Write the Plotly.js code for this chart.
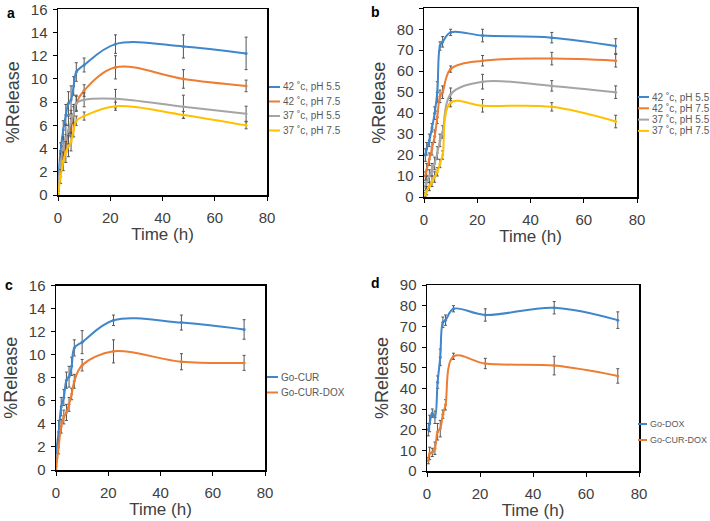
<!DOCTYPE html>
<html><head><meta charset="utf-8">
<script src="https://cdn.plot.ly/plotly-3.0.1.min.js"></script>
<style>html,body{margin:0;padding:0;background:#fff}#chart{width:710px;height:521px}</style>
</head><body><div id="chart"></div>
<script>
// ---- data ----
const tA = [0, 1, 2, 3, 4, 5, 6, 7, 10, 22, 48, 72];
const aNames = ["42 ˚c, pH 5.5", "42 ˚c, pH 7.5", "37 ˚c, pH 5.5", "37 ˚c, pH 7.5"];
const a42_55 = [1.0, 3.8, 5.6, 6.9, 7.9, 8.2, 9.4, 10.6, 11.2, 13.0, 12.8, 12.2];
const a42_55e = [0.5, 0.7, 0.8, 0.9, 1.0, 1.2, 0.8, 0.8, 0.6, 0.8, 1.0, 1.4];
const a42_75 = [0, 2.2, 3.5, 4.5, 5.2, 5.8, 6.9, 7.9, 9.0, 11.0, 10.0, 9.4];
const a42_75e = [0.3, 0.6, 0.7, 0.7, 0.8, 0.8, 0.7, 0.6, 0.5, 1.0, 0.8, 0.5];
const a37_55 = [0.5, 2.8, 4.0, 4.9, 5.6, 6.3, 7.0, 7.9, 8.2, 8.3, 7.6, 7.0];
const a37_55e = [0.4, 0.8, 1.0, 1.2, 1.2, 1.0, 0.8, 0.7, 0.6, 0.8, 1.0, 0.65];
const a37_75 = [0, 1.6, 2.9, 3.7, 4.2, 4.6, 5.6, 6.4, 6.8, 7.65, 6.9, 6.0];
const a37_75e = [0.3, 0.6, 0.8, 0.9, 0.9, 0.8, 0.6, 0.4, 0.35, 0.35, 0.3, 0.3];

const tB = [0.5, 1, 2, 3, 4, 5, 6, 7, 10, 22, 48, 72];
const b42_55 = [20, 23, 27, 33, 40, 50, 72, 74, 78.5, 77, 76, 72];
const b42_55e = [3, 3, 3, 2, 3, 5, 2, 2.5, 1.5, 3, 2.5, 3.5];
const b42_75 = [10, 13, 18, 23, 29, 38, 48, 50, 61, 65, 66, 65];
const b42_75e = [2, 3, 3, 3, 3, 3, 3, 3, 1.5, 2.5, 3, 3];
const b37_55 = [5, 7, 10, 13, 16, 21, 27, 31, 49, 55, 53, 50];
const b37_55e = [2, 3, 3, 3, 3, 3, 3, 3, 3, 3.5, 2.5, 3];
const b37_75 = [1, 3, 5, 7.5, 9.5, 12, 16, 20, 45, 43.5, 43, 36];
const b37_75e = [1, 2, 2, 2.5, 2.5, 2, 2, 2, 2, 3, 2, 3];

const tC = [0, 1, 2, 3, 4, 5, 6, 7, 10, 22, 48, 72];
const cNames = ["Go-CUR", "Go-CUR-DOX"];
const cCur = [1.5, 3.3, 5.5, 6.3, 7.8, 8.1, 9.0, 10.6, 11.1, 13.0, 12.8, 12.2];
const cCurE = [0.5, 1.0, 0.8, 0.7, 0.7, 0.9, 0.8, 0.7, 1.0, 0.45, 0.65, 0.85];
const cCurDox = [0, 2.0, 3.8, 4.6, 5.0, 5.7, 6.6, 7.7, 9.1, 10.3, 9.4, 9.3];
const cCurDoxE = [0.3, 0.6, 0.6, 0.6, 0.7, 0.6, 0.5, 0.6, 0.5, 1.0, 0.7, 0.65];

const tD = [0.5, 1, 2, 3, 4, 5, 6, 7, 10, 22, 48, 72];
const dNames = ["Go-DOX", "Go-CUR-DOX"];
const dDox = [20, 23, 28, 26, 43, 55, 72, 73, 78.5, 75.5, 79, 73];
const dDoxE = [3, 4, 2, 3, 3, 4, 2.5, 2.5, 1.5, 3, 3, 4];
const dCurDox = [5, 8.5, 9, 11, 19, 20.5, 27.5, 32, 55.5, 52, 51, 46];
const dCurDoxE = [1.5, 3, 2, 3, 4, 4, 2, 2.5, 1.5, 2.5, 4.5, 3.5];

const xTicks = [0, 20, 40, 60, 80];
const colors = ["#3f86cc", "#ed7d31", "#a5a5a5", "#ffc000"];

// ---- styling ----
const W = 710, H = 521;
const FONT = "Liberation Sans, Arial, sans-serif";
const TXT = "#404040";
const px = x => x / W, py = y => 1 - y / H;

function trace(x, y, e, name, color, xa, ya) {
  return {
    x: x, y: y, name: name, type: "scatter", mode: "lines+markers",
    xaxis: xa, yaxis: ya, showlegend: false,
    line: {color: color, width: 2, shape: "spline", smoothing: 1},
    marker: {color: color, size: 3},
    error_y: {type: "data", array: e, visible: true, color: "#555", thickness: 1, width: 1.5},
    hoverinfo: "x+y+name"
  };
}

const data = [
  trace(tA, a42_55, a42_55e, aNames[0], colors[0], "x", "y"),
  trace(tA, a42_75, a42_75e, aNames[1], colors[1], "x", "y"),
  trace(tA, a37_55, a37_55e, aNames[2], colors[2], "x", "y"),
  trace(tA, a37_75, a37_75e, aNames[3], colors[3], "x", "y"),
  trace(tB, b42_55, b42_55e, aNames[0], colors[0], "x2", "y2"),
  trace(tB, b42_75, b42_75e, aNames[1], colors[1], "x2", "y2"),
  trace(tB, b37_55, b37_55e, aNames[2], colors[2], "x2", "y2"),
  trace(tB, b37_75, b37_75e, aNames[3], colors[3], "x2", "y2"),
  trace(tC, cCur, cCurE, cNames[0], colors[0], "x3", "y3"),
  trace(tC, cCurDox, cCurDoxE, cNames[1], colors[1], "x3", "y3"),
  trace(tD, dDox, dDoxE, dNames[0], colors[0], "x4", "y4"),
  trace(tD, dCurDox, dCurDoxE, dNames[1], colors[1], "x4", "y4")
];

function xaxis(l, r, anchor) {
  return {
    domain: [px(l), px(r)], anchor: anchor, range: [0, 80], tickvals: xTicks,
    showline: true, linecolor: "#000", linewidth: 1.5, mirror: true,
    ticks: "outside", ticklen: 4, tickcolor: "#000", tickwidth: 1,
    showgrid: false, zeroline: false, ticklabelstandoff: 4,
    tickfont: {family: FONT, size: 15, color: TXT},
    title: {text: "Time (h)", font: {family: FONT, size: 17, color: TXT}, standoff: 0}
  };
}
function yaxis(t, b, anchor, max, dt) {
  return {
    domain: [py(b), py(t)], anchor: anchor, range: [0, max], dtick: dt,
    showline: true, linecolor: "#000", linewidth: 1.5, mirror: true,
    ticks: "outside", ticklen: 4, tickcolor: "#000", tickwidth: 1,
    showgrid: false, zeroline: false, ticklabelstandoff: 2,
    tickfont: {family: FONT, size: 15, color: TXT},
    title: {text: "%Release", font: {family: FONT, size: 18, color: TXT}, standoff: 6}
  };
}

const shapes = [], annotations = [];
function legend(x0, y0, dy, names, cols, len, fs) {
  names.forEach((n, i) => {
    const y = y0 + i * dy;
    shapes.push({type: "line", xref: "paper", yref: "paper",
      x0: px(x0), x1: px(x0 + len), y0: py(y), y1: py(y),
      line: {color: cols[i], width: 2}});
    annotations.push({xref: "paper", yref: "paper", x: px(x0 + len + 1), y: py(y),
      xanchor: "left", yanchor: "middle", showarrow: false, text: n,
      font: {family: FONT, size: fs, color: "#595959"}});
  });
}
legend(269, 87, 14.5, aNames, colors, 11, 10);
legend(638, 97, 11.3, aNames, colors, 11, 10);
legend(267, 377, 15.5, cNames, colors, 11, 10);
legend(638, 424, 16, dNames, colors, 9, 9);

[["a", 11, 13], ["b", 375, 12], ["c", 9, 285], ["d", 375, 283]].forEach(([t, x, y]) => {
  annotations.push({xref: "paper", yref: "paper", x: px(x), y: py(y), xanchor: "center", yanchor: "middle",
    showarrow: false, text: "<b>" + t + "</b>", font: {family: FONT, size: 14, color: "#000"}});
});

const layout = {
  width: W, height: H, autosize: false,
  margin: {l: 0, r: 0, t: 0, b: 0},
  paper_bgcolor: "#fff", plot_bgcolor: "#fff",
  showlegend: false,
  xaxis: xaxis(58, 267, "y"),
  yaxis: yaxis(9.3, 195, "x", 16, 2),
  xaxis2: xaxis(424, 637, "y2"),
  yaxis2: yaxis(8.3, 197, "x2", 90, 10),
  xaxis3: xaxis(56, 265, "y3"),
  yaxis3: yaxis(285.7, 470, "x3", 16, 2),
  xaxis4: xaxis(427, 639, "y4"),
  yaxis4: yaxis(285, 471, "x4", 90, 10),
  shapes: shapes, annotations: annotations
};

Plotly.newPlot("chart", data, layout, {staticPlot: true, displayModeBar: false});
</script></body></html>
